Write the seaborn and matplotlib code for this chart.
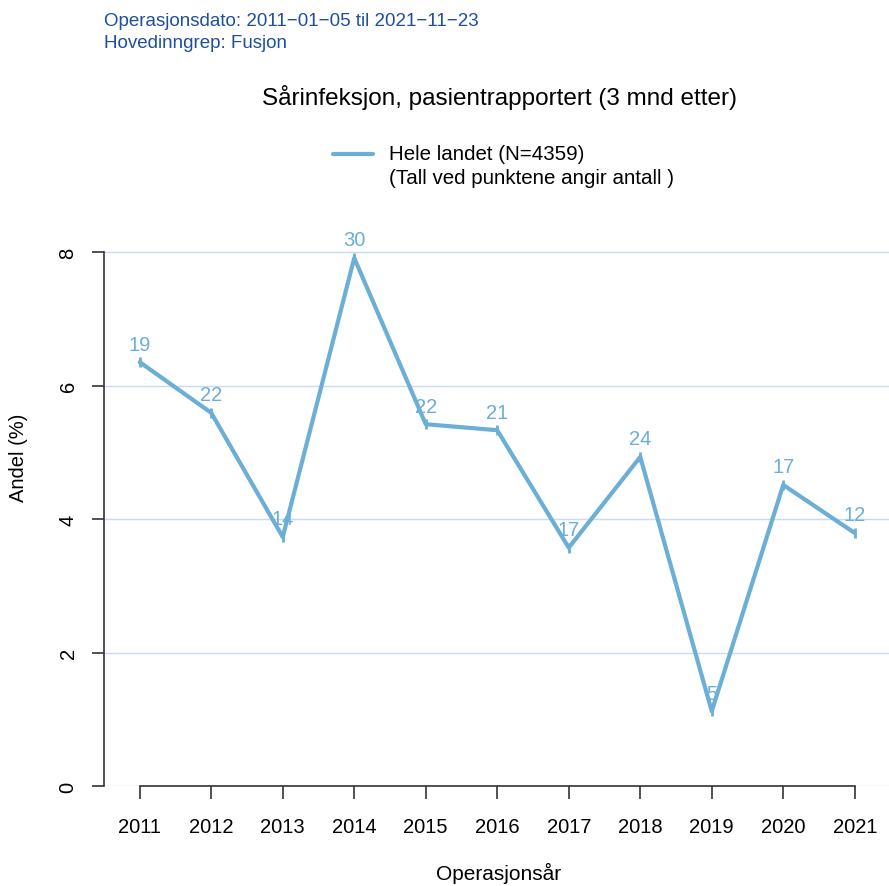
import matplotlib
matplotlib.use("Agg")
import matplotlib.pyplot as plt
import seaborn as sns
import pandas as pd

years = [2011, 2012, 2013, 2014, 2015, 2016, 2017, 2018, 2019, 2020, 2021]
andel = [6.35, 5.59, 3.73, 7.91, 5.42, 5.33, 3.57, 4.93, 1.12, 4.51, 3.79]
antall = [19, 22, 14, 30, 22, 21, 17, 24, 5, 17, 12]
yticks = [0, 2, 4, 6, 8]

title = "Sårinfeksjon, pasientrapportert (3 mnd etter)"
subtitle_lines = ["Operasjonsdato: 2011\u221201\u221205 til 2021\u221211\u221223", "Hovedinngrep: Fusjon"]
legend_lines = ["Hele landet (N=4359)", "(Tall ved punktene angir antall )"]
xlabel = "Operasjonsår"
ylabel = "Andel (%)"

line_col = "#6BAED6"
grid_col = "#C6DBEF"
sub_col = "#1F4E9E"

sns.set_style("white")
plt.rcParams["font.family"] = ["Liberation Sans", "DejaVu Sans"]
plt.rcParams["text.color"] = "black"
plt.rcParams["xtick.color"] = "black"
plt.rcParams["ytick.color"] = "black"

W, H = 889, 887
fig = plt.figure(figsize=(W / 100, H / 100), dpi=100)
left_px, right_px, top_px, bot_px = 104, 889, 220, 787
ax = fig.add_axes([left_px / W, 1 - bot_px / H, (right_px - left_px) / W, (bot_px - top_px) / H])

df = pd.DataFrame({"year": years, "andel": andel})
for y in yticks:
    ax.axhline(y, color=grid_col, lw=1.0, zorder=0)
sns.lineplot(data=df, x="year", y="andel", ax=ax, color=line_col, lw=3.0,
             marker="|", markersize=7, markeredgewidth=2.0, markeredgecolor=line_col, zorder=3)

for x, y, n in zip(years, andel, antall):
    ax.annotate(str(n), (x, y), xytext=(0, 13), textcoords="offset points",
                ha="center", va="center", color=line_col, fontsize=14.5, zorder=4)

ax.set_xlim(2010.5, 2010.5 + (right_px - left_px) / 71.5)
ax.set_ylim(0, (bot_px - top_px) / 66.75)
ax.set_xticks(years)
ax.set_yticks(yticks)
ax.set_xticklabels([str(y) for y in years], fontsize=14.5)
ax.set_yticklabels([str(y) for y in yticks], fontsize=14.5, rotation=90, va="center")
ax.tick_params(axis="both", length=9, width=1.2, color="#333333", pad=10, bottom=True, left=True,
               labelcolor="black")
ax.tick_params(axis="x", pad=13)
for s in ["top", "right"]:
    ax.spines[s].set_visible(False)
ax.spines["left"].set_bounds(0, 8)
ax.spines["bottom"].set_bounds(2011, 2021)
for s in ["left", "bottom"]:
    ax.spines[s].set_color("#333333")
    ax.spines[s].set_linewidth(1.2)
ax.set_xlabel("")
ax.set_ylabel("")

fig.text(499 / W, 1 - 873 / H, xlabel, ha="center", va="center", fontsize=15)
fig.text(19 / W, 1 - 458 / H, ylabel, ha="center", va="center", rotation=90, fontsize=14.5)
fig.text(499 / W, 1 - 97 / H, title, ha="center", va="center", fontsize=17.5)
fig.text(104 / W, 1 - 21 / H, subtitle_lines[0], ha="left", va="center", fontsize=13.5, color=sub_col)
fig.text(104 / W, 1 - 43 / H, subtitle_lines[1], ha="left", va="center", fontsize=13.5, color=sub_col)

fig.add_artist(matplotlib.lines.Line2D([333 / W, 373 / W], [1 - 155 / H, 1 - 155 / H],
                                       color=line_col, lw=3.0, transform=fig.transFigure))
fig.text(389 / W, 1 - 155 / H, legend_lines[0], ha="left", va="center", fontsize=14.8)
fig.text(389 / W, 1 - 179 / H, legend_lines[1], ha="left", va="center", fontsize=14.8)

fig.savefig("out.png", dpi=100)
